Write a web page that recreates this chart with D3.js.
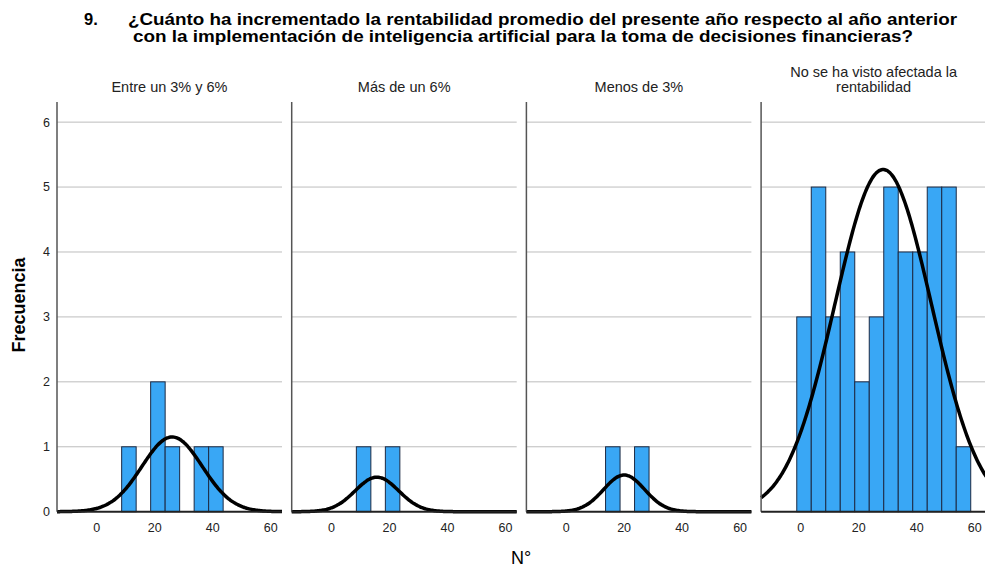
<!DOCTYPE html>
<html>
<head>
<meta charset="utf-8">
<script src="https://cdn.jsdelivr.net/npm/d3@7"></script>
<style>
  body { margin: 0; background: #fff; }
  svg { display: block; font-family: "Liberation Sans", Arial, sans-serif; }
</style>
</head>
<body>
<div id="chart"></div>
<script>
// panel categories
const panelTitles = [
  ["Entre un 3% y 6%"],
  ["Más de un 6%"],
  ["Menos de 3%"],
  ["No se ha visto afectada la", "rentabilidad"]
];

// histogram bins (width 5, first edge -1.4)
const binStart = -1.4;
const binWidth = 5;
const countsEntre = [0, 0, 1, 0, 2, 1, 0, 1, 1, 0, 0, 0];
const countsMas = [0, 0, 1, 0, 1, 0, 0, 0, 0, 0, 0, 0];
const countsMenos = [0, 0, 0, 1, 0, 1, 0, 0, 0, 0, 0, 0];
const countsNo = [3, 5, 3, 4, 2, 3, 5, 4, 4, 5, 5, 1];
const panelCounts = [countsEntre, countsMas, countsMenos, countsNo];

// fitted normal curve parameters per panel
const curveMean = [26, 15.7, 20, 28.4];
const curveSd = [10.4, 7.5, 7.06, 16.65];
const curveN = [6, 2, 2, 44];

const xTicks = [0, 20, 40, 60];
const yTicks = [0, 1, 2, 3, 4, 5, 6];

const width = 985, height = 569;
const panelLeft0 = 57, panelStep = 234.7, panelWidth = 225;
const plotTop = 102, plotBottom = 511.7;

const svg = d3.select("#chart").append("svg")
  .attr("width", width)
  .attr("height", height);

// title
const title = svg.append("g").attr("font-weight", "bold").attr("font-size", "16.5px").attr("fill", "#000");
title.append("text").attr("x", 84).attr("y", 25).text("9.");
title.append("text").attr("x", 128).attr("y", 25)
  .attr("textLength", 829).attr("lengthAdjust", "spacingAndGlyphs")
  .text("¿Cuánto ha incrementado la rentabilidad promedio del presente año respecto al año anterior");
title.append("text").attr("x", 133).attr("y", 42)
  .attr("textLength", 780).attr("lengthAdjust", "spacingAndGlyphs")
  .text("con la implementación de inteligencia artificial para la toma de decisiones financieras?");

const y = d3.scaleLinear().domain([0, 6.31]).range([plotBottom, plotTop]);

panelCounts.forEach((counts, p) => {
  const left = panelLeft0 + p * panelStep;
  const x = d3.scaleLinear().domain([-13.7, 63.9]).range([left, left + panelWidth]);
  const g = svg.append("g");

  // gridlines
  g.selectAll(".grid")
    .data(yTicks.filter(d => d > 0))
    .join("line")
    .attr("x1", left).attr("x2", left + panelWidth)
    .attr("y1", d => y(d)).attr("y2", d => y(d))
    .attr("stroke", "#bdbdbd").attr("stroke-width", 1);

  // bars
  const bars = counts.map((c, i) => ({ x0: binStart + i * binWidth, x1: binStart + (i + 1) * binWidth, c }))
    .filter(d => d.c > 0);
  g.selectAll(".bar")
    .data(bars)
    .join("rect")
    .attr("x", d => x(d.x0))
    .attr("width", d => x(d.x1) - x(d.x0))
    .attr("y", d => y(d.c))
    .attr("height", d => y(0) - y(d.c))
    .attr("fill", "#39a7f5")
    .attr("stroke", "#1c2a44")
    .attr("stroke-width", 1);

  // normal curve
  const m = curveMean[p], s = curveSd[p], n = curveN[p];
  const pts = d3.range(0, 201).map(i => {
    const v = -13.7 + i * (63.9 + 13.7) / 200;
    const dens = n * binWidth * Math.exp(-0.5 * ((v - m) / s) ** 2) / (s * Math.sqrt(2 * Math.PI));
    return [v, dens];
  });
  g.append("path")
    .datum(pts)
    .attr("d", d3.line().x(d => x(d[0])).y(d => y(d[1])).curve(d3.curveBasis))
    .attr("fill", "none")
    .attr("stroke", "#000")
    .attr("stroke-width", 3.5);

  // axes lines
  g.append("line")
    .attr("x1", left).attr("x2", left)
    .attr("y1", plotTop).attr("y2", plotBottom)
    .attr("stroke", "#555").attr("stroke-width", 1.5);
  g.append("line")
    .attr("x1", left).attr("x2", left + panelWidth)
    .attr("y1", plotBottom).attr("y2", plotBottom)
    .attr("stroke", "#222").attr("stroke-width", 2);

  // x tick labels
  g.selectAll(".xt")
    .data(xTicks)
    .join("text")
    .attr("x", d => x(d))
    .attr("y", 532)
    .attr("text-anchor", "middle")
    .attr("font-size", "12.5px")
    .attr("fill", "#222")
    .text(d => d);

  // panel title
  const lines = panelTitles[p];
  g.selectAll(".pt")
    .data(lines)
    .join("text")
    .attr("x", left + panelWidth / 2)
    .attr("y", (d, i) => 92 - (lines.length - 1 - i) * 15)
    .attr("text-anchor", "middle")
    .attr("font-size", "14.5px")
    .attr("fill", "#222")
    .text(d => d);

  if (p === 0) {
    g.selectAll(".yt")
      .data(yTicks)
      .join("text")
      .attr("x", 50)
      .attr("y", d => y(d))
      .attr("dy", "0.35em")
      .attr("text-anchor", "end")
      .attr("font-size", "12.5px")
      .attr("fill", "#222")
      .text(d => d);
  }
});

// axis titles
svg.append("text")
  .attr("transform", "translate(25,305) rotate(-90)")
  .attr("text-anchor", "middle")
  .attr("font-size", "18px")
  .attr("font-weight", "bold")
  .text("Frecuencia");

svg.append("text")
  .attr("x", 521)
  .attr("y", 564)
  .attr("text-anchor", "middle")
  .attr("font-size", "18px")
  .text("N°");
</script>
</body>
</html>
